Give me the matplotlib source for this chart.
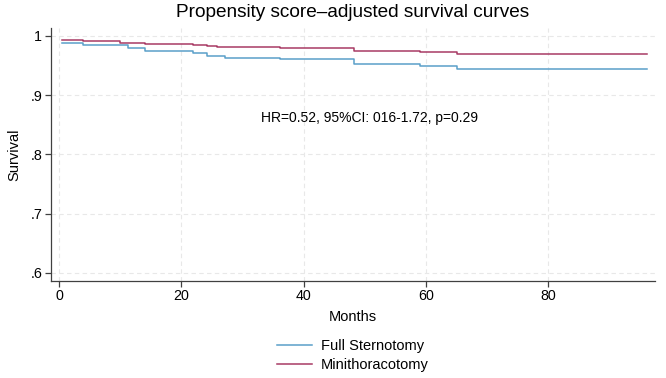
import matplotlib
matplotlib.use('Agg')
import matplotlib.pyplot as plt

from matplotlib import rcParams
rcParams['font.family'] = ['Liberation Sans', 'DejaVu Sans']
rcParams['font.size'] = 10

# Step curve data (months, survival)
full_times = [0.5, 4.0, 11.3, 14.1, 22.0, 24.2, 27.2, 36.2, 48.2, 59.1, 65.1, 96.2]
full_surv = [0.988, 0.984, 0.980, 0.975, 0.972, 0.967, 0.963, 0.961, 0.953, 0.950, 0.944, 0.944]

mini_times = [0.5, 4.0, 10.0, 14.1, 22.0, 24.2, 25.9, 36.2, 48.2, 59.1, 65.1, 96.2]
mini_surv = [0.993, 0.991, 0.989, 0.987, 0.985, 0.983, 0.981, 0.979, 0.975, 0.973, 0.970, 0.970]

x_ticks = [0, 20, 40, 60, 80]
y_ticks = [0.6, 0.7, 0.8, 0.9, 1.0]
y_tick_labels = ['.6', '.7', '.8', '.9', '1']

blue = '#5a9fc9'
red = '#a83a64'

fig = plt.figure(figsize=(6.66, 3.78), dpi=100)
ax = fig.add_axes([0.0761, 0.2566, 0.9074, 0.6693])

ax.step(full_times, full_surv, where='post', color=blue, lw=1.1, label='Full Sternotomy')
ax.step(mini_times, mini_surv, where='post', color=red, lw=1.1, label='Minithoracotomy')

ax.set_xlim(-1.36, 97.5)
ax.set_ylim(0.586, 1.0135)
ax.set_xticks(x_ticks)
ax.set_yticks(y_ticks)
ax.set_yticklabels(y_tick_labels)

# faint dashed grid
ax.grid(True, color='#e8e8e8', linestyle=(0, (4, 3)), linewidth=0.8)
ax.set_axisbelow(True)

for side in ['top', 'right']:
    ax.spines[side].set_visible(False)
for side in ['left', 'bottom']:
    ax.spines[side].set_color('#404040')
    ax.spines[side].set_linewidth(0.9)
ax.tick_params(axis='both', direction='out', length=4, width=0.9, color='#404040', labelsize=10.3, pad=2)

ax.set_xlabel('Months', fontsize=10.5)
ax.xaxis.set_label_coords(0.5, -0.113)
ax.set_ylabel('Survival', fontsize=10.5)
ax.yaxis.set_label_coords(-0.048, 0.5)

ax.text(33.0, 0.861, 'HR=0.52, 95%CI: 016-1.72, p=0.29', fontsize=10, va='center', ha='left')

fig.text(0.53, 0.968, 'Propensity score\u2013adjusted survival curves', fontsize=13.7, ha='center', va='center')

fig.legend(loc='center', bbox_to_anchor=(0.53, 0.06), frameon=False, fontsize=10.5,
           handlelength=2.4, handletextpad=0.6, labelspacing=0.35)

fig.savefig('out.png', dpi=100)
